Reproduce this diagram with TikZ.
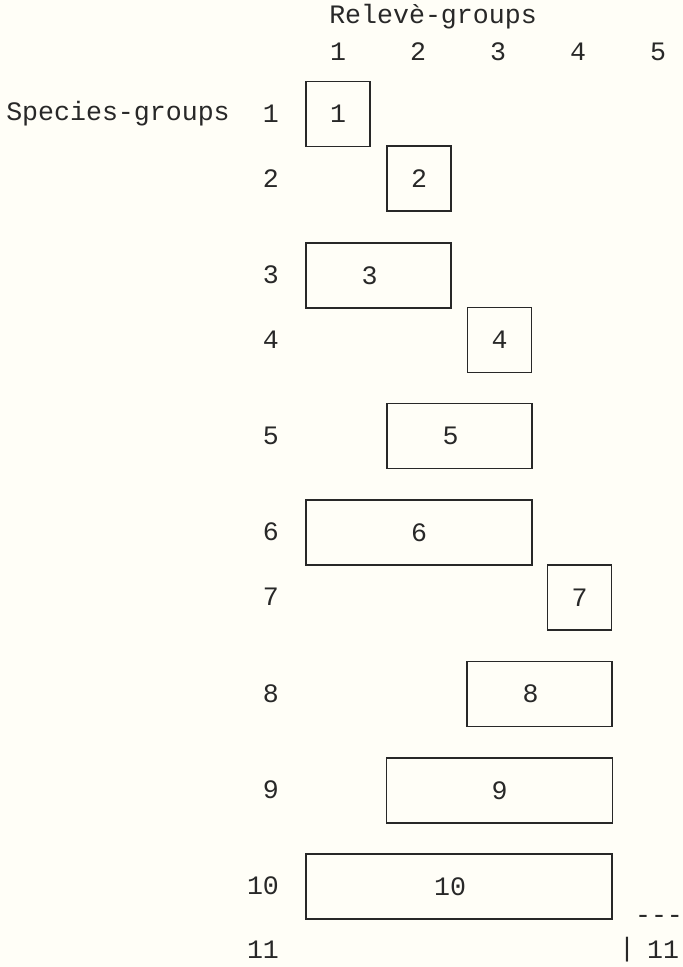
\documentclass[tikz,border=0pt]{standalone}
\usepackage{fontspec}
\setmonofont{Liberation Mono}
\definecolor{paper}{RGB}{255,254,247}
\definecolor{ink}{RGB}{40,40,40}

\begin{document}
\begin{tikzpicture}[
  x=0.5pt, y=-0.5pt,
  every node/.style={font=\ttfamily\fontsize{13.3}{16}\selectfont, text=ink},
  every label/.style={font=\ttfamily\fontsize{13.3}{16}\selectfont, text=ink, inner sep=0pt},
  grp/.style={rectangle, draw=ink, line width=0.6pt, minimum width=#1, minimum height=32.5pt, inner sep=0pt},
  rowlab/.style={anchor=east}
]
\useasboundingbox[fill=paper] (0,0) rectangle (683,967);

% header
\node (title) at (433,17) {Relevè-groups};
\node (c1) at (338,52) {1};
\node (c2) at (418,52) {2};
\node (c3) at (498,52) {3};
\node (c4) at (578,52) {4};
\node (c5) at (658,52) {5};

\node (species) at (118,114) {Species-groups};

% species-group rows
\node[rowlab] (r1) at (286,114) {1};
\node[rowlab] (r2) at (286,179) {2};
\node[rowlab] (r3) at (286,275) {3};
\node[rowlab] (r4) at (286,340) {4};
\node[rowlab] (r5) at (286,436) {5};
\node[rowlab] (r6) at (286,532) {6};
\node[rowlab] (r7) at (286,597) {7};
\node[rowlab] (r8) at (286,694) {8};
\node[rowlab] (r9) at (286,790) {9};
\node[rowlab] (r10) at (286,886) {10};
\node[rowlab] (r11) at (286,950) {11};

% groups
\node[grp=32pt] (g1) at (338,114) {1};
\node[grp=32pt] (g2) at (419,178.5) {2};
\node[grp=72.5pt, label={[xshift=-4.5pt]center:3}] (g3) at (378.5,275.5) {};
\node[grp=32pt] (g4) at (499.5,340) {4};
\node[grp=72.5pt, label={[xshift=-4.5pt]center:5}] (g5) at (459.5,436) {};
\node[grp=113pt] (g6) at (419,532.5) {6};
\node[grp=32pt] (g7) at (579.5,597.5) {7};
\node[grp=72.5pt, label={[xshift=-4.5pt]center:8}] (g8) at (539.5,694) {};
\node[grp=113pt] (g9) at (499.5,790.5) {9};
\node[grp=153pt, label={[xshift=-4.5pt]center:10}] (g10) at (459,886.5) {};

% group 11, open box
\node (dash11) at (659,919) {---};
\node (bar11) at (627,950) {|};
\node (g11) at (663,950) {11};
\end{tikzpicture}
\end{document}
